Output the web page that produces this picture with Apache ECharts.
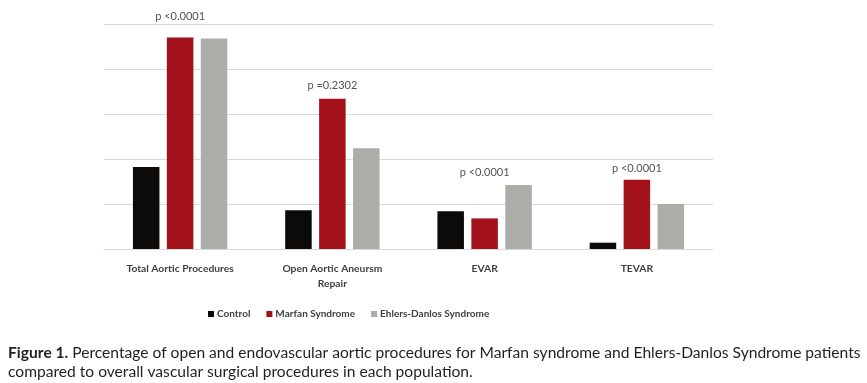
<!DOCTYPE html>
<html><head><meta charset="utf-8">
<script src="https://cdn.jsdelivr.net/npm/echarts@6/dist/echarts.min.js"></script>
<style>html,body{margin:0;padding:0;background:#fff}#c{width:867px;height:383px}</style>
</head><body><div id="c"></div>
<script>
const categories = ['Total Aortic Procedures', 'Open Aortic Aneursm\nRepair', 'EVAR', 'TEVAR'];
const control = [9.1, 4.3, 4.2, 0.7];
const marfan = [23.5, 16.7, 3.4, 7.7];
const ehlers = [23.4, 11.2, 7.1, 5.0];
const pLabels = ['p <0.0001', 'p =0.2302', 'p <0.0001', 'p <0.0001'];
const pLabelY = [25.8, 18.2, 8.5, 8.9];
const seriesNames = ['Control', 'Marfan Syndrome', 'Ehlers-Danlos Syndrome'];
const captionBold = 'Figure 1.';
const captionText = ' Percentage of open and endovascular aortic procedures for Marfan syndrome and Ehlers-Danlos Syndrome patients\ncompared to overall vascular surgical procedures in each population.';

const colors = ['#0d0a0a', '#a3111a', '#acaca8'];
const chart = echarts.init(document.getElementById('c'));
const labelFont = {fontFamily: 'Lato', fontWeight: 'bold', fontSize: 10.3, color: '#404040'};
chart.setOption({
  animation: false,
  grid: {left: 104, right: 154, top: 24, bottom: 134},
  xAxis: {
    type: 'category', data: categories,
    axisLine: {lineStyle: {color: '#d9d9d9'}},
    axisTick: {show: false},
    axisLabel: Object.assign({margin: 12, lineHeight: 15, interval: 0}, labelFont)
  },
  yAxis: {
    type: 'value', min: 0, max: 25, interval: 5,
    axisLabel: {show: false}, axisLine: {show: false}, axisTick: {show: false},
    splitLine: {lineStyle: {color: '#d9d9d9'}}
  },
  legend: {
    data: seriesNames, left: 203, top: 304,
    icon: 'rect', itemWidth: 6, itemHeight: 6, itemGap: 16,
    textStyle: Object.assign({padding: [0, 0, 0, -2]}, labelFont, {fontSize: 10})
  },
  title: {
    left: 3, top: 338,
    text: '{b|' + captionBold + '}{n|' + captionText.split('\n')[0] + '}\n{n|' + captionText.split('\n')[1] + '}',
    textStyle: {
      fontWeight: 'normal',
      rich: {
        b: {fontFamily: 'Lato', fontWeight: 'bold', fontSize: 15.6, color: '#231f20', lineHeight: 19},
        n: {fontFamily: 'Lato', fontWeight: 'normal', fontSize: 15.6, color: '#231f20', lineHeight: 19}
      }
    }
  },
  series: [
    {name: seriesNames[0], type: 'bar', data: control, itemStyle: {color: colors[0]}, barGap: '28%', barCategoryGap: '38%'},
    {name: seriesNames[1], type: 'bar', data: marfan, itemStyle: {color: colors[1]}},
    {name: seriesNames[2], type: 'bar', data: ehlers, itemStyle: {color: colors[2]}},
    {type: 'scatter', data: pLabelY.map((v, i) => [i, v]), symbolSize: 0, clip: false, silent: true,
     label: {show: true, position: 'inside', formatter: p => pLabels[p.dataIndex],
       fontFamily: 'Lato', fontSize: 11, color: '#262626'}}
  ]
});
</script></body></html>
